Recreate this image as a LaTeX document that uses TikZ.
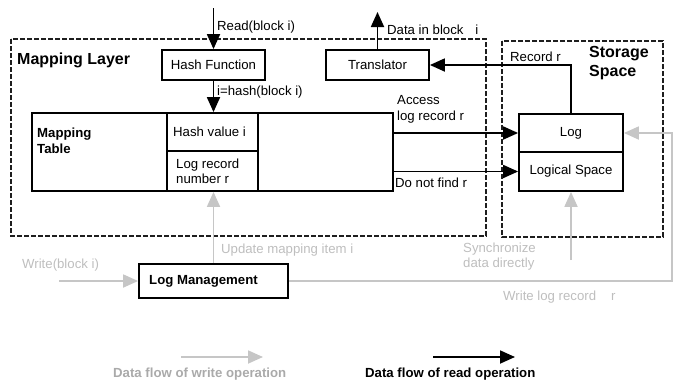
\documentclass[tikz,border=0pt]{standalone}
\usepackage{fontspec}
\setmainfont{Liberation Sans}
\usetikzlibrary{arrows.meta}
\definecolor{lgray}{RGB}{198,198,198}
\definecolor{tgray}{RGB}{190,190,190}
\definecolor{leggray}{RGB}{170,170,170}
\definecolor{dashblk}{RGB}{30,30,30}
\tikzset{
  txt/.style={inner sep=0pt, anchor=west, font=\fontsize{13.2}{15.5}\selectfont, align=left},
  gtxt/.style={txt, text=tgray},
  ttl/.style={inner sep=0pt, anchor=west, font=\fontsize{16}{19}\selectfont\bfseries, align=left},
  box/.style={draw=black, line width=1.8pt, inner sep=0pt, font=\fontsize{13.2}{15.5}\selectfont},
  frame/.style={draw=dashblk, line width=2.7pt, dash pattern=on 5pt off 2pt},
  rarr/.style={draw=black, line width=1.8pt, -{Triangle[length=15pt,width=13pt]}},
  warr/.style={draw=lgray, line width=1.8pt, -{Triangle[length=15pt,width=13pt]}},
}
\begin{document}
\begin{tikzpicture}[x=1pt,y=-1pt]
\useasboundingbox (0,0) rectangle (675,383);
% frames
\draw[frame] (11,39) rectangle (486,236);
\draw[frame] (502,41) rectangle (663,237);
\node[ttl] (mltitle) at (17,60) {Mapping Layer};
\node[ttl] (sstitle) at (589,63.5) {Storage\\Space};
% boxes
\node[box, minimum width=103pt, minimum height=30pt] (hash) at (213.5,65) {Hash Function};
\node[box, minimum width=103pt, minimum height=30pt] (trans) at (377.5,65) {Translator};
\node[box, minimum width=361pt, minimum height=78pt] (table) at (212.5,152) {};
\node[box, minimum width=91pt, minimum height=38pt] (hv) at (212.5,132) {};
\node[box, minimum width=91pt, minimum height=40pt] (lr) at (212.5,171) {};
\node[txt] (hvt) at (173,132) {Hash value i};
\node[txt] (lrt) at (176,171.5) {Log record\\number r};
\node[txt, font=\fontsize{13.2}{16}\selectfont\bfseries] (mt) at (37,141) {Mapping\\Table};
\node[box, minimum width=104pt, minimum height=38pt] (log) at (571,133) {Log};
\node[box, minimum width=104pt, minimum height=39pt] (ls) at (571,171.5) {Logical Space};
\node[box, minimum width=149pt, minimum height=34pt] (lm) at (213.5,281) {};
\node[txt, font=\fontsize{13.2}{15.5}\selectfont\bfseries] (lmt) at (149,281) {Log Management};
% coordinates
\coordinate (readtop) at (213.5,8);
\coordinate (datatop) at (377.5,12);
\coordinate (wstart) at (59,281);
\coordinate (corner) at (672,281);
\coordinate (sync) at (571,260);
\coordinate (lw1) at (181,357);
\coordinate (lw2) at (263,357);
\coordinate (lr1) at (433,357);
\coordinate (lr2) at (515,357);
% read flow
\draw[rarr] (readtop) -- (hash.north);
\node[txt] (readl) at (217,27) {Read(block i)};
\draw[rarr] (hash.south) -- (hash.south |- table.north);
\node[txt] (hashl) at (217,92) {i=hash(block i)};
\draw[rarr] (trans.north) -- (datatop);
\node[txt] (datal) at (387,30) {Data in block\hspace{12pt}i};
\draw[rarr] (log.north) |- (trans.east);
\node[txt] (recl) at (510,57) {Record r};
\draw[rarr] (table.east |- log.west) -- (log.west);
\node[txt] (accl) at (397,109.5) {Access\\log record r};
\draw[rarr] (table.east |- ls.west) -- (ls.west);
\node[txt] (dnfl) at (395,183) {Do not find r};
% write flow
\draw[warr] (wstart) -- (lm.west);
\node[gtxt] (wl) at (22,265) {Write(block i)};
\draw[warr] (lm.north) -- (lm.north |- table.south);
\node[gtxt] (upl) at (221,250) {Update mapping item i};
\draw[warr] (lm.east) -- (corner) |- (log.east);
\node[gtxt] (wlrl) at (503,297) {Write log record\hspace{15pt}r};
\draw[warr] (sync) -- (ls.south);
\node[gtxt] (syncl) at (463,256.5) {Synchronize\\data directly};
% legend
\draw[warr] (lw1) -- (lw2);
\node[txt, text=leggray, font=\fontsize{13.2}{15.5}\selectfont\bfseries] (lwl) at (113,374) {Data flow of write operation};
\draw[rarr] (lr1) -- (lr2);
\node[txt, font=\fontsize{13.2}{15.5}\selectfont\bfseries] (lrl) at (365,374) {Data flow of read operation};
\end{tikzpicture}
\end{document}
